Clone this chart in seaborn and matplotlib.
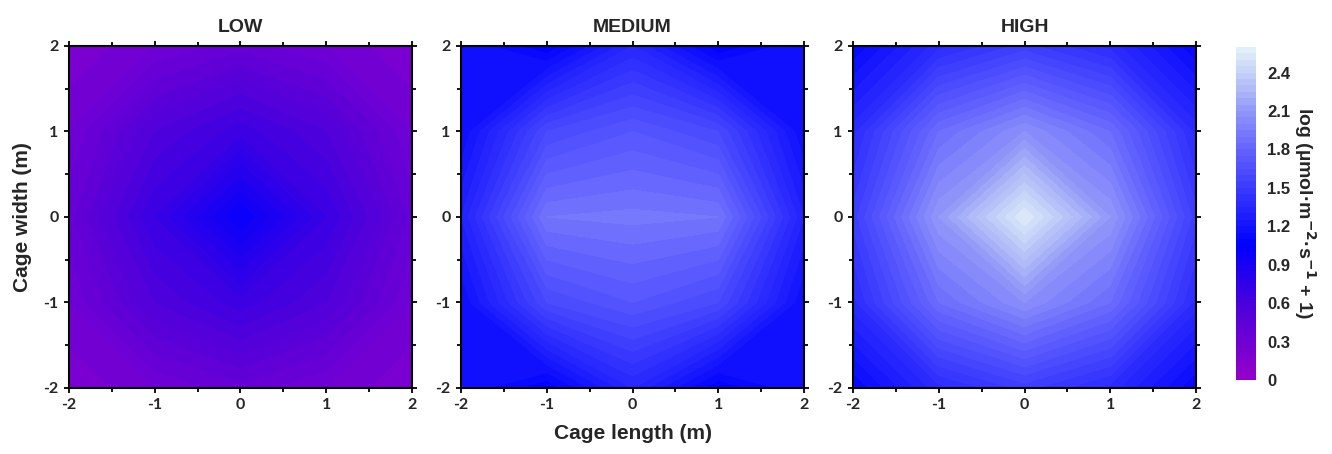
import numpy as np
import matplotlib
matplotlib.use("Agg")
import matplotlib.pyplot as plt
from matplotlib.colors import LinearSegmentedColormap
from matplotlib.ticker import MultipleLocator
import seaborn as sns

# grid positions (m)
x_pos = [-2, -1, 0, 1, 2]
y_pos = [-2, -1, 0, 1, 2]

# log(PAR + 1) values, rows = y from -2 to 2, cols = x from -2 to 2
low = [
    [0.20, 0.30, 0.38, 0.30, 0.20],
    [0.30, 0.55, 0.68, 0.55, 0.30],
    [0.38, 0.70, 1.00, 0.70, 0.38],
    [0.30, 0.55, 0.68, 0.55, 0.30],
    [0.20, 0.30, 0.38, 0.30, 0.20],
]
medium = [
    [1.20, 1.05, 1.35, 1.05, 1.20],
    [1.15, 1.60, 1.70, 1.60, 1.15],
    [1.30, 1.90, 1.92, 1.90, 1.30],
    [1.15, 1.60, 1.70, 1.60, 1.15],
    [1.20, 1.05, 1.35, 1.05, 1.20],
]
high = [
    [1.10, 1.38, 1.52, 1.38, 1.10],
    [1.38, 1.85, 2.05, 1.85, 1.38],
    [1.52, 2.10, 2.55, 2.10, 1.52],
    [1.38, 1.85, 2.05, 1.85, 1.38],
    [1.10, 1.38, 1.52, 1.38, 1.10],
]
titles = ["LOW", "MEDIUM", "HIGH"]
cbar_ticks = [0, 0.3, 0.6, 0.9, 1.2, 1.5, 1.8, 2.1, 2.4]

sns.set_theme(style="ticks")
plt.rcParams["font.family"] = ["Liberation Sans", "DejaVu Sans"]
plt.rcParams["mathtext.default"] = "bf"
plt.rcParams["axes.unicode_minus"] = False

vmax = 2.6
stops = [(0.0, "#9800c8"), (0.3, "#7000d4"), (0.6, "#4800dc"), (1.05, "#0000ff"),
         (1.5, "#3a3aff"), (1.8, "#6464ff"), (2.1, "#9096f8"), (2.4, "#c4d2f8"),
         (2.6, "#e4f2fa")]
cmap = LinearSegmentedColormap.from_list("par", [(v / vmax, c) for v, c in stops])
levels = np.arange(0, 2.61, 0.05)

fig = plt.figure(figsize=(13.32, 4.54), dpi=100)
lefts = [0.0518, 0.3461, 0.6404]
axes = [fig.add_axes([l, 0.1454, 0.2575, 0.7533]) for l in lefts]

X, Y = np.meshgrid(x_pos, y_pos)
for ax, data, title in zip(axes, [low, medium, high], titles):
    cf = ax.contourf(X, Y, np.array(data), levels=levels, cmap=cmap, vmin=0, vmax=vmax)
    ax.set_xlim(-2, 2)
    ax.set_ylim(-2, 2)
    ax.xaxis.set_major_locator(MultipleLocator(1))
    ax.yaxis.set_major_locator(MultipleLocator(1))
    ax.xaxis.set_minor_locator(MultipleLocator(0.5))
    ax.yaxis.set_minor_locator(MultipleLocator(0.5))
    ax.tick_params(which="both", direction="inout", top=True, right=True,
                   width=1.3, color="black", labelsize=11.5, pad=4)
    ax.tick_params(which="major", length=7)
    ax.tick_params(which="minor", length=6)
    for s in ax.spines.values():
        s.set_linewidth(1.5)
        s.set_color("black")
    for lab in ax.get_xticklabels() + ax.get_yticklabels():
        lab.set_fontweight("bold")
        lab.set_family(["Lato", "DejaVu Sans"])
    ax.set_title(title, fontsize=14, fontweight="bold", pad=10)

axes[0].set_ylabel("Cage width (m)", fontsize=15, fontweight="bold", labelpad=8)
axes[1].set_xlabel("Cage length (m)", fontsize=15, fontweight="bold", labelpad=8)

cax = fig.add_axes([0.928, 0.163, 0.015, 0.7335])
cb = fig.colorbar(cf, cax=cax, ticks=cbar_ticks)
cb.outline.set_visible(False)
cb.ax.tick_params(length=0, labelsize=12, pad=8)
cb.ax.set_yticklabels(["0" if t == 0 else f"{t:.1f}" for t in cbar_ticks], fontweight="bold")
cb.set_label(r"log (µmol·m$^{-2}$·s$^{-1}$ + 1)", rotation=270, fontsize=14,
             fontweight="bold", labelpad=20)

fig.savefig("out.png", dpi=100)
